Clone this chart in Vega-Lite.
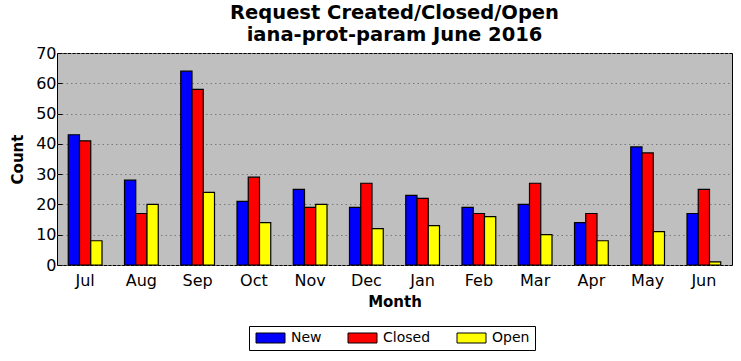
{
  "$schema": "https://vega.github.io/schema/vega-lite/v6.json",
  "autosize": "none",
  "width": 675,
  "height": 212,
  "padding": {"left": 57, "top": 53, "right": 9, "bottom": 96},
  "background": "white",
  "title": {
    "text": "Request Created/Closed/Open",
    "subtitle": "iana-prot-param June 2016",
    "font": "DejaVu Sans",
    "fontSize": 19.5,
    "fontWeight": "bold",
    "color": "black",
    "subtitleFont": "DejaVu Sans",
    "subtitleFontSize": 19.5,
    "subtitleFontWeight": "bold",
    "subtitleColor": "black",
    "subtitlePadding": 2,
    "offset": 0,
    "frame": "group",
    "anchor": "middle"
  },
  "config": {
    "view": {"stroke": "black", "strokeWidth": 1, "fill": "#bfbfbf"},
    "font": "DejaVu Sans",
    "axis": {
      "labelFont": "DejaVu Sans",
      "labelFontSize": 16,
      "labelColor": "black",
      "titleFont": "DejaVu Sans",
      "titleFontSize": 15,
      "titleFontWeight": "bold",
      "titleColor": "black",
      "domain": false,
      "tickColor": "black",
      "tickSize": -5,
      "tickWidth": 1
    }
  },
  "data": {
    "values": [
      {"month": "Jul", "status": "New", "count": 43},
      {"month": "Jul", "status": "Closed", "count": 41},
      {"month": "Jul", "status": "Open", "count": 8},
      {"month": "Aug", "status": "New", "count": 28},
      {"month": "Aug", "status": "Closed", "count": 17},
      {"month": "Aug", "status": "Open", "count": 20},
      {"month": "Sep", "status": "New", "count": 64},
      {"month": "Sep", "status": "Closed", "count": 58},
      {"month": "Sep", "status": "Open", "count": 24},
      {"month": "Oct", "status": "New", "count": 21},
      {"month": "Oct", "status": "Closed", "count": 29},
      {"month": "Oct", "status": "Open", "count": 14},
      {"month": "Nov", "status": "New", "count": 25},
      {"month": "Nov", "status": "Closed", "count": 19},
      {"month": "Nov", "status": "Open", "count": 20},
      {"month": "Dec", "status": "New", "count": 19},
      {"month": "Dec", "status": "Closed", "count": 27},
      {"month": "Dec", "status": "Open", "count": 12},
      {"month": "Jan", "status": "New", "count": 23},
      {"month": "Jan", "status": "Closed", "count": 22},
      {"month": "Jan", "status": "Open", "count": 13},
      {"month": "Feb", "status": "New", "count": 19},
      {"month": "Feb", "status": "Closed", "count": 17},
      {"month": "Feb", "status": "Open", "count": 16},
      {"month": "Mar", "status": "New", "count": 20},
      {"month": "Mar", "status": "Closed", "count": 27},
      {"month": "Mar", "status": "Open", "count": 10},
      {"month": "Apr", "status": "New", "count": 14},
      {"month": "Apr", "status": "Closed", "count": 17},
      {"month": "Apr", "status": "Open", "count": 8},
      {"month": "May", "status": "New", "count": 39},
      {"month": "May", "status": "Closed", "count": 37},
      {"month": "May", "status": "Open", "count": 11},
      {"month": "Jun", "status": "New", "count": 17},
      {"month": "Jun", "status": "Closed", "count": 25},
      {"month": "Jun", "status": "Open", "count": 1}
    ]
  },
  "mark": {"type": "bar", "stroke": "black", "strokeWidth": 1.2},
  "encoding": {
    "x": {
      "field": "month",
      "type": "nominal",
      "sort": ["Jul", "Aug", "Sep", "Oct", "Nov", "Dec", "Jan", "Feb", "Mar", "Apr", "May", "Jun"],
      "scale": {"paddingInner": 0.4, "paddingOuter": 0.2},
      "axis": {"title": "Month", "labelAngle": 0, "labelPadding": 12, "titlePadding": 6, "grid": false}
    },
    "xOffset": {
      "field": "status",
      "type": "nominal",
      "sort": ["New", "Closed", "Open"],
      "scale": {"paddingInner": 0, "paddingOuter": 0}
    },
    "y": {
      "field": "count",
      "type": "quantitative",
      "scale": {"domain": [0, 70], "nice": false},
      "axis": {
        "title": "Count",
        "values": [0, 10, 20, 30, 40, 50, 60, 70],
        "labelPadding": 6,
        "titlePadding": 10,
        "grid": true,
        "gridDash": [1.5, 3],
        "gridColor": "#7a7a7a",
        "gridWidth": 1
      }
    },
    "color": {
      "field": "status",
      "type": "nominal",
      "sort": ["New", "Closed", "Open"],
      "scale": {"domain": ["New", "Closed", "Open"], "range": ["#0000ff", "#ff0000", "#ffff00"]},
      "legend": {
        "title": null,
        "orient": "none",
        "legendX": 192,
        "legendY": 273,
        "direction": "horizontal",
        "symbolType": "M-1,-1H4.8V1H-1Z",
        "symbolSize": 100,
        "symbolStrokeColor": "black",
        "symbolStrokeWidth": 1,
        "symbolOpacity": 1,
        "labelFont": "DejaVu Sans",
        "labelFontSize": 14,
        "labelColor": "black",
        "columnPadding": 24,
        "strokeColor": "black",
        "padding": 5,
        "labelOffset": 23
      }
    }
  }
}
